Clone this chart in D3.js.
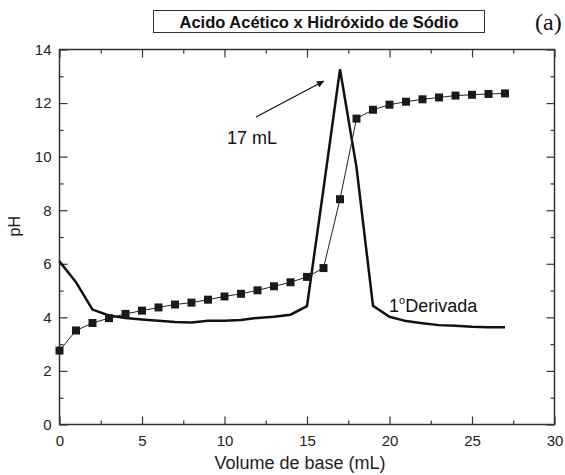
<!DOCTYPE html>
<html>
<head>
<meta charset="utf-8">
<script src="https://cdn.jsdelivr.net/npm/d3@7"></script>
<style>
  body { margin: 0; background: #fff; }
  svg { font-family: "Liberation Sans", Arial, sans-serif; }
</style>
</head>
<body>
<svg id="chart"></svg>
<script>
// volume of base added (mL)
const volume = [0, 1, 2, 3, 4, 5, 6, 7, 8, 9, 10, 11, 12, 13, 14, 15, 16, 17, 18, 19, 20, 21, 22, 23, 24, 25, 26, 27];
// measured pH (squares)
const phValues = [2.76, 3.51, 3.79, 3.97, 4.13, 4.25, 4.37, 4.48, 4.55, 4.66, 4.78, 4.88, 5.01, 5.16, 5.31, 5.51, 5.84, 8.41, 11.42, 11.75, 11.94, 12.05, 12.14, 12.21, 12.28, 12.31, 12.34, 12.36];
// first derivative curve (solid line)
const derivValues = [6.09, 5.31, 4.29, 4.07, 3.98, 3.92, 3.87, 3.83, 3.81, 3.87, 3.87, 3.90, 3.98, 4.02, 4.10, 4.42, 8.8, 13.26, 9.6, 4.43, 4.02, 3.86, 3.78, 3.71, 3.69, 3.65, 3.63, 3.63];

const xMajor = [0, 5, 10, 15, 20, 25, 30];
const xMinor = [2.5, 7.5, 12.5, 17.5, 22.5, 27.5];
const yMajor = [0, 2, 4, 6, 8, 10, 12, 14];
const yMinor = [1, 3, 5, 7, 9, 11, 13];

const width = 565, height = 475;
const margin = {top: 49.5, right: 10.5, bottom: 50.5, left: 59.5};

const svg = d3.select('#chart')
    .attr('width', width)
    .attr('height', height);

const x = d3.scaleLinear().domain([0, 30]).range([margin.left, width - margin.right]);
const y = d3.scaleLinear().domain([0, 14]).range([height - margin.bottom, margin.top]);

const axisColor = '#333';

// ticks point inward on all four sides
function drawAxis(axis, tx, ty) {
    const g = svg.append('g')
        .attr('transform', `translate(${tx},${ty})`)
        .call(axis);
    g.select('.domain').remove();
    g.selectAll('line').attr('stroke', axisColor).attr('stroke-width', 1.2);
    g.selectAll('text')
        .attr('fill', '#222')
        .style('font-size', '15px')
        .style('font-family', '"Liberation Sans", Arial, sans-serif');
    return g;
}

const plotBottom = y(0), plotTop = y(14), plotLeft = x(0), plotRight = x(30);

drawAxis(d3.axisBottom(x).tickValues(xMajor).tickSize(-8).tickPadding(11).tickFormat(d3.format('d')), 0, plotBottom);
drawAxis(d3.axisBottom(x).tickValues(xMinor).tickSize(-4).tickFormat(''), 0, plotBottom);
drawAxis(d3.axisTop(x).tickValues(xMajor).tickSize(-8).tickFormat(''), 0, plotTop);
drawAxis(d3.axisTop(x).tickValues(xMinor).tickSize(-4).tickFormat(''), 0, plotTop);
drawAxis(d3.axisLeft(y).tickValues(yMajor).tickSize(-8).tickPadding(8).tickFormat(d3.format('d')), plotLeft, 0);
drawAxis(d3.axisLeft(y).tickValues(yMinor).tickSize(-4).tickFormat(''), plotLeft, 0);
drawAxis(d3.axisRight(y).tickValues(yMajor).tickSize(-8).tickFormat(''), plotRight, 0);
drawAxis(d3.axisRight(y).tickValues(yMinor).tickSize(-4).tickFormat(''), plotRight, 0);

// frame
svg.append('rect')
    .attr('x', plotLeft).attr('y', plotTop)
    .attr('width', plotRight - plotLeft).attr('height', plotBottom - plotTop)
    .attr('fill', 'none')
    .attr('stroke', axisColor)
    .attr('stroke-width', 1.5);

const pts = volume.map((v, i) => ({v, ph: phValues[i], d: derivValues[i]}));

// derivative curve
svg.append('path')
    .datum(pts)
    .attr('fill', 'none')
    .attr('stroke', '#111')
    .attr('stroke-width', 2.5)
    .attr('stroke-linejoin', 'miter')
    .attr('d', d3.line().x(d => x(d.v)).y(d => y(d.d)));

// pH curve with squares
svg.append('path')
    .datum(pts)
    .attr('fill', 'none')
    .attr('stroke', '#222')
    .attr('stroke-width', 1)
    .attr('d', d3.line().x(d => x(d.v)).y(d => y(d.ph)));

const sq = 8;
svg.selectAll('rect.pt')
    .data(pts)
    .enter().append('rect')
    .attr('class', 'pt')
    .attr('x', d => x(d.v) - sq / 2)
    .attr('y', d => y(d.ph) - sq / 2)
    .attr('width', sq).attr('height', sq)
    .attr('fill', '#1a1a1a');

// annotations
svg.append('defs').append('marker')
    .attr('id', 'head')
    .attr('viewBox', '0 0 10 10')
    .attr('refX', 10).attr('refY', 5)
    .attr('markerWidth', 9).attr('markerHeight', 7)
    .attr('markerUnits', 'userSpaceOnUse')
    .attr('orient', 'auto')
    .append('path').attr('d', 'M0,0 L10,5 L0,10 z').attr('fill', '#111');

svg.append('line')
    .attr('x1', 256).attr('y1', 117)
    .attr('x2', 324).attr('y2', 81)
    .attr('stroke', '#111').attr('stroke-width', 1.2)
    .attr('marker-end', 'url(#head)');

svg.append('text')
    .attr('x', 227).attr('y', 144)
    .style('font-size', '18px').attr('fill', '#111')
    .text('17 mL');

const lab = svg.append('text')
    .attr('x', 389).attr('y', 312)
    .style('font-size', '18px').attr('fill', '#111');
lab.append('tspan').text('1');
lab.append('tspan').attr('dy', -8).style('font-size', '11px').text('o');
lab.append('tspan').attr('dy', 8).text('Derivada');

// axis titles
svg.append('text')
    .attr('x', 300).attr('y', 469)
    .attr('text-anchor', 'middle')
    .style('font-size', '18px').attr('fill', '#222')
    .text('Volume de base (mL)');

svg.append('text')
    .attr('transform', `translate(20,${y(7.4)}) rotate(-90)`)
    .attr('text-anchor', 'middle')
    .style('font-size', '16px').attr('fill', '#222')
    .text('pH');

// title box
svg.append('rect')
    .attr('x', 153.5).attr('y', 10.5)
    .attr('width', 331).attr('height', 22)
    .attr('fill', 'none').attr('stroke', '#333').attr('stroke-width', 1);

svg.append('text')
    .attr('x', 319).attr('y', 28)
    .attr('text-anchor', 'middle')
    .style('font-size', '16.5px').style('font-weight', 'bold').attr('fill', '#111')
    .text('Acido Acético x Hidróxido de Sódio');

svg.append('text')
    .attr('x', 535).attr('y', 30)
    .style('font-family', '"Liberation Serif", "Times New Roman", serif')
    .style('font-size', '24px').attr('fill', '#111')
    .text('(a)');
</script>
</body>
</html>
